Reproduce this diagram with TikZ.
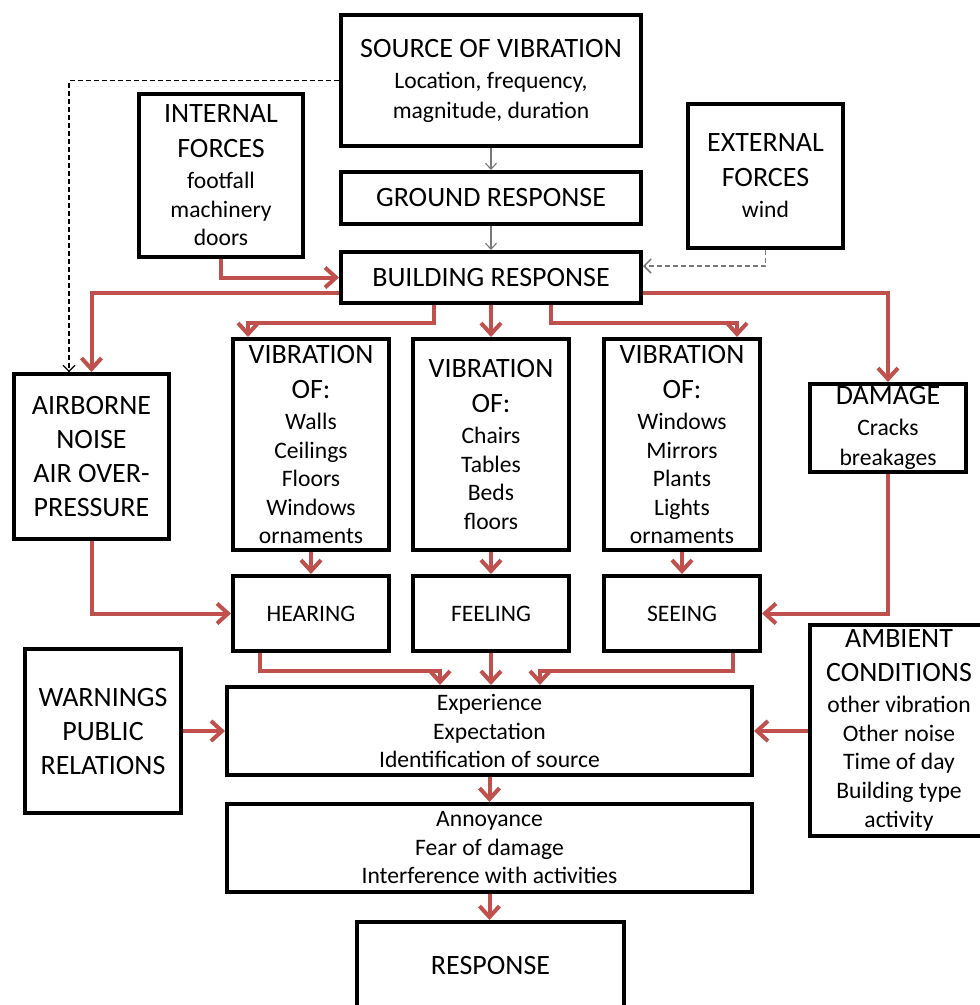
\documentclass[tikz,border=0pt]{standalone}
\usepackage{fontspec}
\setmainfont{Carlito}
\usetikzlibrary{arrows.meta}
\definecolor{arrred}{RGB}{192,80,77}
\definecolor{dgray}{RGB}{120,120,120}
\newcommand{\BigT}{\fontsize{28}{34}\selectfont}
\newcommand{\SmT}{\fontsize{23.6}{28.5}\selectfont}
\begin{document}
\begin{tikzpicture}[x=1pt,y=-1pt,
  box/.style={draw=black,line width=4pt,inner sep=0pt,align=center,fill=white,font=\SmT},
  red/.style={draw=arrred,line width=4pt,-{Straight Barb[length=11pt,width=20pt]}},
  dshblack/.style={draw=black,line width=1.1pt,dash pattern=on 5pt off 3pt,-{Straight Barb[length=6pt,width=12pt]}},
  dshgray/.style={draw=dgray,line width=1.5pt,dash pattern=on 5pt off 3pt,-{Straight Barb[length=7pt,width=14pt]}},
  thingray/.style={draw=dgray,line width=1.1pt,-{Straight Barb[length=6pt,width=11pt]}}
]
\useasboundingbox (0,0) rectangle (980,1005);
\clip (0,0) rectangle (980,1005);
\fill[white] (0,0) rectangle (980,1005);

% boxes
\node[box,minimum width=300pt,minimum height=131pt] (src) at (491,80.5)
  {\BigT SOURCE OF VIBRATION\\[2.5pt] Location, frequency,\\[1.5pt] magnitude, duration};
\node[box,minimum width=164pt,minimum height=163pt] (intf) at (221,175.5)
  {\BigT INTERNAL\\[6.5pt] \BigT FORCES\\[2.5pt] footfall\\ machinery\\ doors};
\node[box,minimum width=300pt,minimum height=52pt,font=\BigT] (grd) at (491,198)
  {GROUND RESPONSE};
\node[box,minimum width=155pt,minimum height=144pt] (extf) at (765.5,176)
  {\BigT EXTERNAL\\[6pt] \BigT FORCES\\[3pt] wind};
\node[box,minimum width=300pt,minimum height=51pt,font=\BigT] (bld) at (491,277.5)
  {BUILDING RESPONSE};
\node[box,minimum width=155pt,minimum height=165pt,font=\BigT] (air) at (91.5,456.5)
  {AIRBORNE\\ NOISE\\ AIR OVER-\\ PRESSURE};
\node[box,minimum width=156pt,minimum height=211pt] (v1) at (311,444.5)
  {\BigT VIBRATION\\[6.5pt] \BigT OF:\\[2.5pt] Walls\\ Ceilings\\ Floors\\ Windows\\ ornaments};
\node[box,minimum width=156pt,minimum height=211pt] (v2) at (491,444.5)
  {\BigT VIBRATION\\[6.5pt] \BigT OF:\\[2.5pt] Chairs\\ Tables\\ Beds\\ floors};
\node[box,minimum width=156pt,minimum height=211pt] (v3) at (682,444.5)
  {\BigT VIBRATION\\[6.5pt] \BigT OF:\\[2.5pt] Windows\\ Mirrors\\ Plants\\ Lights\\ ornaments};
\node[box,minimum width=156pt,minimum height=88pt] (dmg) at (888,428)
  {\BigT DAMAGE\\[2.5pt] Cracks\\[1.5pt] breakages};
\node[box,minimum width=156pt,minimum height=75pt] (hear) at (311,613.5)
  {HEARING};
\node[box,minimum width=156pt,minimum height=75pt] (feel) at (491,613.5)
  {FEELING};
\node[box,minimum width=156pt,minimum height=75pt] (see) at (682,613.5)
  {SEEING};
\node[box,minimum width=178pt,minimum height=211pt] (amb) at (899,730.5)
  {\BigT AMBIENT\\[6pt] \BigT CONDITIONS\\[2.5pt] other vibration\\ Other noise\\ Time of day\\ Building type\\[1pt] activity};
\node[box,minimum width=156pt,minimum height=164pt,font=\BigT] (warn) at (103,731)
  {WARNINGS\\ PUBLIC\\ RELATIONS};
\node[box,minimum width=525pt,minimum height=88pt] (exp) at (489.5,731)
  {Experience\\ Expectation\\ Identification of source};
\node[box,minimum width=525pt,minimum height=88pt] (ann) at (489.5,848)
  {Annoyance\\ Fear of damage\\ Interference with activities};
\node[box,minimum width=267pt,minimum height=86pt,font=\BigT] (resp) at (490.5,965)
  {RESPONSE};

% dashed / gray connectors
\draw[dshblack] (src.west) -| ([xshift=-22.5pt]air.north);
\draw[thingray] (src.south) -- (grd.north);
\draw[thingray] (grd.south) -- (bld.north);
\draw[dshgray] (extf.south) |- ([yshift=11.5pt]bld.east);

% red connectors
\draw[red] (intf.south) |- (bld.west);
\draw[red] ([yshift=-15.5pt]bld.west) -| (air.north);
\draw[red] ([xshift=-57pt]bld.south) -- ++(0,18) -| ([xshift=-63pt]v1.north);
\draw[red] (bld.south) -- (v2.north);
\draw[red] ([xshift=60pt]bld.south) -- ++(0,18) -| ([xshift=55pt]v3.north);
\draw[red] ([yshift=-15.5pt]bld.east) -| (dmg.north);
\draw[red] (v1.south) -- (hear.north);
\draw[red] (v2.south) -- (feel.north);
\draw[red] (v3.south) -- (see.north);
\draw[red] (air.south) |- (hear.west);
\draw[red] (dmg.south) |- (see.east);
\draw[red] ([xshift=-51pt]hear.south) -- ++(0,18) -| ([xshift=-49.5pt]exp.north);
\draw[red] (feel.south) -- (feel.south |- exp.north);
\draw[red] ([xshift=51pt]see.south) -- ++(0,18) -| ([xshift=50.5pt]exp.north);
\draw[red] (warn.east) -- (exp.west);
\draw[red] (amb.west |- exp.east) -- (exp.east);
\draw[red] (exp.south) -- (ann.north);
\draw[red] (ann.south) -- (ann.south |- resp.north);
\end{tikzpicture}
\end{document}
